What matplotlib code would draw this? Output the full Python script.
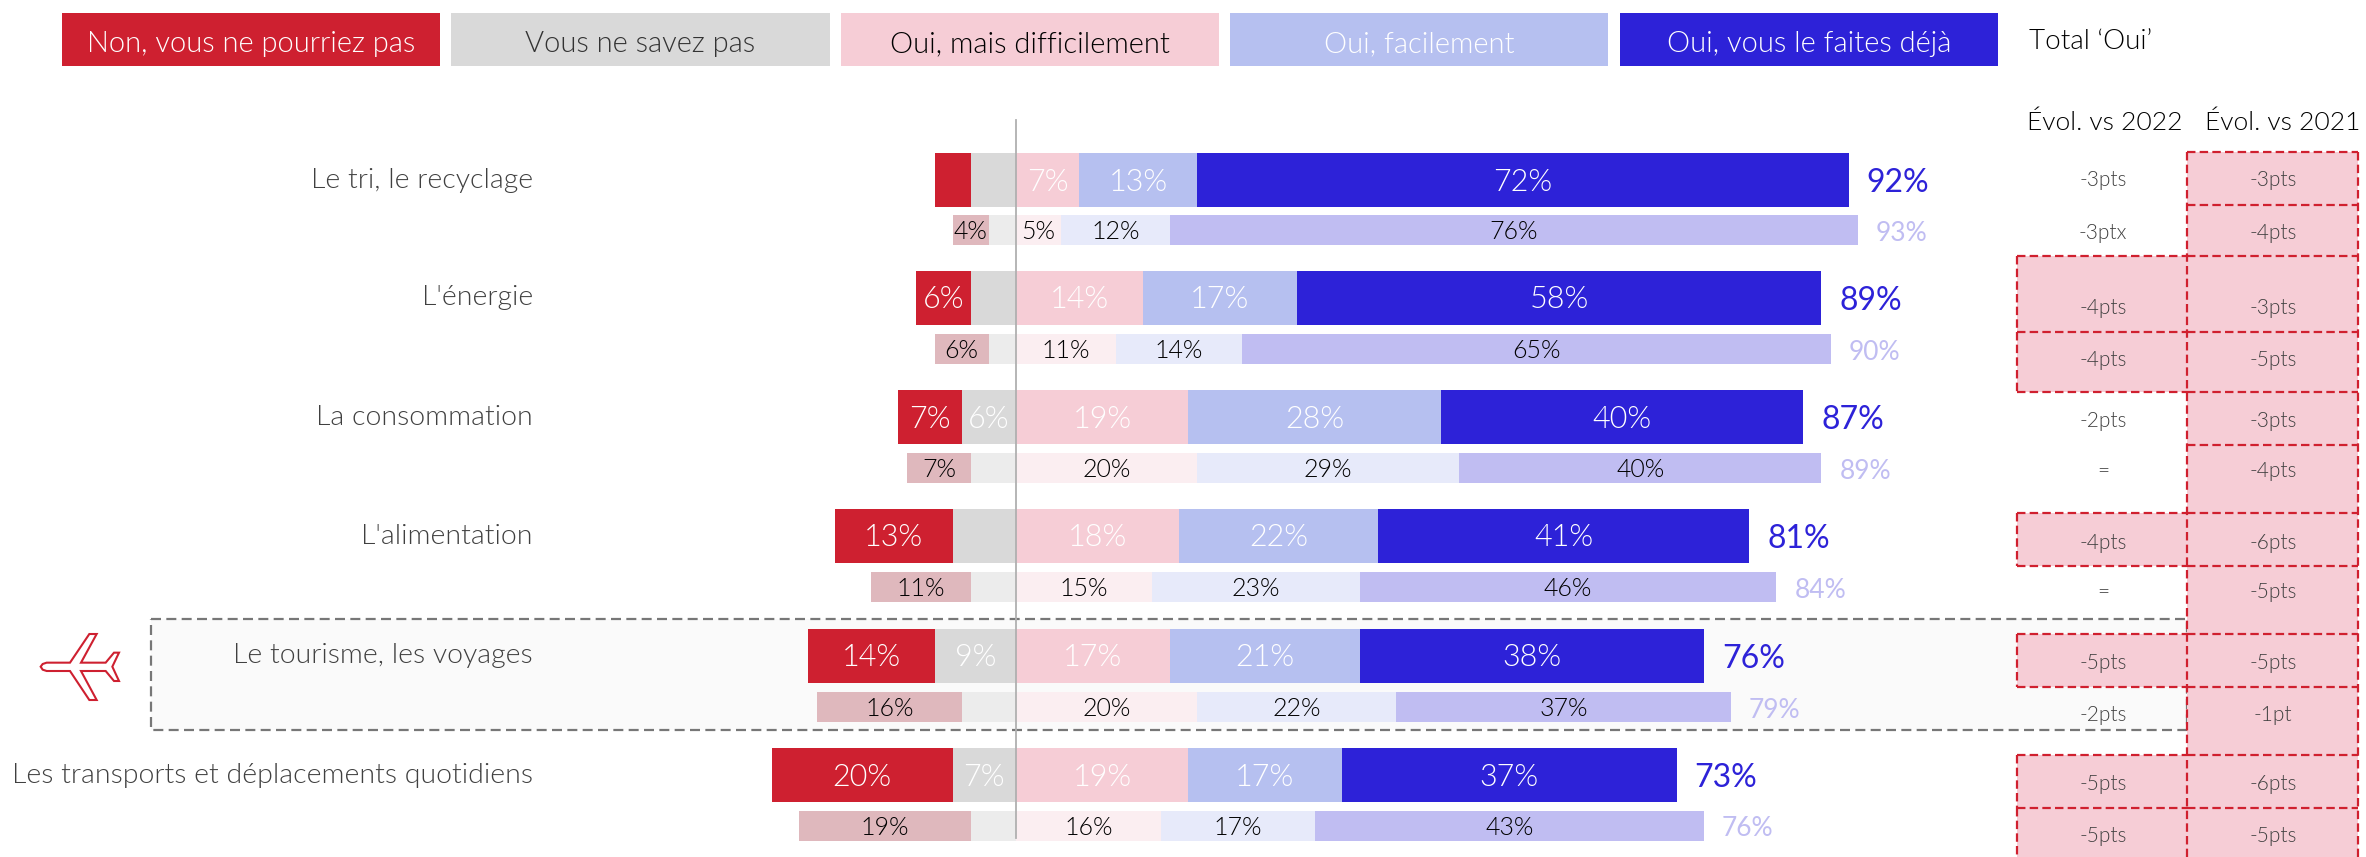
import matplotlib
matplotlib.use('Agg')
import matplotlib.pyplot as plt
from matplotlib import font_manager as fm
from matplotlib.patches import Rectangle, Polygon

W, H = 2366, 857
ZERO = 1016
PX_PER_PCT = 9.05

plt.rcParams['font.family'] = ['Lato', 'DejaVu Sans']


def lato(style_word, size):
    # le poids 'light' tombe sur Lato Hairline, on choisit le fichier à la main
    for f in fm.fontManager.ttflist:
        if f.name == 'Lato' and f.fname.endswith(f'-{style_word}.ttf'):
            return fm.FontProperties(fname=f.fname, size=size)
    return fm.FontProperties(family='Lato', size=size)


categories = ['Le tri, le recyclage', "L'énergie", 'La consommation', "L'alimentation",
              'Le tourisme, les voyages', 'Les transports et déplacements quotidiens']
legend_labels = ['Non, vous ne pourriez pas', 'Vous ne savez pas', 'Oui, mais difficilement',
                 'Oui, facilement', 'Oui, vous le faites déjà']

# gros barres = année en cours
non_big = [4, 6, 7, 13, 14, 20]
nsp_big = [5, 5, 6, 7, 9, 7]
diff_big = [7, 14, 19, 18, 17, 19]
fac_big = [13, 17, 28, 22, 21, 17]
deja_big = [72, 58, 40, 41, 38, 37]
total_big = [92, 89, 87, 81, 76, 73]
non_big_shown = [False, True, True, True, True, True]
nsp_big_shown = [False, False, True, False, True, True]

# petites barres = année précédente
non_small = [4, 6, 7, 11, 16, 19]
nsp_small = [3, 3, 5, 5, 6, 5]
diff_small = [5, 11, 20, 15, 20, 16]
fac_small = [12, 14, 29, 23, 22, 17]
deja_small = [76, 65, 40, 46, 37, 43]
total_small = [93, 90, 89, 84, 79, 76]

evol_2022 = ['-3pts', '-3ptx', '-4pts', '-4pts', '-2pts', '=', '-4pts', '=', '-5pts', '-2pts', '-5pts', '-5pts']
evol_2021 = ['-3pts', '-4pts', '-3pts', '-5pts', '-3pts', '-4pts', '-6pts', '-5pts', '-5pts', '-1pt', '-6pts', '-5pts']

RED = '#CE2030'
GREY = '#D9D9D9'
PINK = '#F6CDD6'
LAV = '#B6C0F0'
BLUE = '#2D22D8'
colors_big = [RED, GREY, PINK, LAV, BLUE]
colors_small = ['#DFB8BD', '#ECECEC', '#FBEEF1', '#E7EAFA', '#C0BDF2']
TXT = '#404040'

fig = plt.figure(figsize=(W / 100, H / 100), dpi=100)

# fond en pixels : légende, encadré, tableau
px = fig.add_axes([0, 0, 1, 1], zorder=1)
px.set_xlim(0, W)
px.set_ylim(H, 0)
px.axis('off')

# barres : x en %, y en pixels
ax = fig.add_axes([0, 0, 1, 1], zorder=2)
ax.set_xlim(-ZERO / PX_PER_PCT, (W - ZERO) / PX_PER_PCT)
ax.set_ylim(H, 0)
ax.axis('off')
ax.patch.set_alpha(0)

# légende
boxes = [(62, 440), (451, 830), (841, 1219), (1230, 1608), (1620, 1998)]
legend_txt = ['white', '#333333', 'black', 'white', 'white']
for (x0, x1), lab, c, tc in zip(boxes, legend_labels, colors_big, legend_txt):
    px.add_patch(Rectangle((x0, 13), x1 - x0, 53, fc=c, ec='none'))
    px.text((x0 + x1) / 2, 44, lab, color=tc, fontproperties=lato('Light', 21), ha='center', va='center')
px.text(2029, 41, 'Total ‘Oui’', color='black', fontproperties=lato('Light', 20), ha='left', va='center')
px.text(2105, 123, 'Évol. vs 2022', color='black', fontproperties=lato('Light', 19), ha='center', va='center')
px.text(2283, 123, 'Évol. vs 2021', color='black', fontproperties=lato('Light', 19), ha='center', va='center')

# encadré tourisme
px.add_patch(Rectangle((151, 619), 2036, 111, fc='#FAFAFA', ec='#777777', lw=1.6,
                       ls=(0, (4.5, 2.4)), zorder=1))

# avion
plane = [(62, 170), (68, 162), (80, 158), (150, 158), (208, 72), (230, 72), (183, 158), (257, 158),
         (282, 128), (297, 128), (277, 170), (297, 213), (282, 213), (257, 183), (183, 183),
         (230, 270), (208, 270), (150, 183), (80, 183), (68, 179)]
px.add_patch(Polygon([(20 + a / 3, 610 + b / 3) for a, b in plane], closed=True, fc='white', ec=RED, lw=1.5))

# tableau d'évolution
X0, X1, X2 = 2017, 2187.5, 2358.5
cells1 = [(256, 332), (332, 392), (513, 566), (634, 687), (755, 808), (808, 870)]
cells2 = [(152, 205), (205, 256), (256, 332), (332, 392), (392, 445), (445, 513), (513, 566),
          (566, 634), (634, 687), (687, 755), (755, 808), (808, 870)]
for cells, a, b in ((cells1, X0, X1), (cells2, X1, X2)):
    for y0, y1 in cells:
        px.add_patch(Rectangle((a, y0), b - a, y1 - y0, fc=PINK, ec='none', zorder=2))
    # chaque trait une seule fois, sinon les pointillés se recouvrent
    for y in sorted({v for c in cells for v in c}):
        px.plot([a, b], [y, y], color='#D0202F', lw=1.6, ls=(0, (3.8, 1.9)), zorder=3)
for y0, y1 in cells1:
    px.plot([X0, X0], [y0, y1], color='#D0202F', lw=1.6, ls=(0, (3.8, 1.9)), zorder=3)
for x in (X1, X2):
    px.plot([x, x], [152, 857], color='#D0202F', lw=1.6, ls=(0, (3.8, 1.9)), zorder=3)

evol_y = [180, 233, 308, 360, 421, 471, 543, 592, 663, 715, 784, 836]
for y, a, b in zip(evol_y, evol_2022, evol_2021):
    px.text(2103, y, a, color=TXT, fontproperties=lato('Light', 15), ha='center', va='center', zorder=4)
    px.text(2273, y, b, color=TXT, fontproperties=lato('Light', 15), ha='center', va='center', zorder=4)

# barres
row_big = [180, 298, 417, 536, 656, 775]
row_small = [230, 349, 468, 587, 707, 826]
BIG_H, SMALL_H = 54, 30
LAB_DY = 2

for i, cat in enumerate(categories):
    yb, ys = row_big[i], row_small[i]
    ax.text((533 - ZERO) / PX_PER_PCT, yb, cat, color=TXT, fontproperties=lato('Light', 20.5),
            ha='right', va='center')

    # année en cours
    left = -(non_big[i] + nsp_big[i])
    ax.barh(yb, non_big[i], BIG_H, left=left, color=RED)
    ax.barh(yb, nsp_big[i], BIG_H, left=-nsp_big[i], color=GREY)
    if non_big_shown[i]:
        ax.text(left + non_big[i] / 2, yb + LAB_DY, f'{non_big[i]}%', color='white', fontproperties=lato('Light', 22),
                ha='center', va='center')
    if nsp_big_shown[i]:
        ax.text(-nsp_big[i] / 2, yb + LAB_DY, f'{nsp_big[i]}%', color='white', fontproperties=lato('Light', 22),
                ha='center', va='center')
    start = 0
    for v, c in zip((diff_big[i], fac_big[i], deja_big[i]), colors_big[2:]):
        ax.barh(yb, v, BIG_H, left=start, color=c)
        ax.text(start + v / 2, yb + LAB_DY, f'{v}%', color='white', fontproperties=lato('Light', 22),
                ha='center', va='center')
        start += v
    ax.text(start + 2, yb + 3, f'{total_big[i]}%', color=BLUE, fontproperties=lato('Regular', 23),
            ha='left', va='center')

    # année précédente
    left = -(non_small[i] + nsp_small[i])
    ax.barh(ys, non_small[i], SMALL_H, left=left, color=colors_small[0])
    ax.barh(ys, nsp_small[i], SMALL_H, left=-nsp_small[i], color=colors_small[1])
    ax.text(left + non_small[i] / 2, ys + LAB_DY, f'{non_small[i]}%', color='black', fontproperties=lato('Light', 18),
            ha='center', va='center')
    start = 0
    for v, c in zip((diff_small[i], fac_small[i], deja_small[i]), colors_small[2:]):
        ax.barh(ys, v, SMALL_H, left=start, color=c)
        ax.text(start + v / 2, ys + LAB_DY, f'{v}%', color='black', fontproperties=lato('Light', 18),
                ha='center', va='center')
        start += v
    ax.text(start + 2, ys + 3, f'{total_small[i]}%', color=colors_small[4], fontproperties=lato('Regular', 19),
            ha='left', va='center')

ax.plot([0, 0], [120, 838], color='#B0B0B0', lw=1.3)

fig.savefig('out.png', dpi=100)
